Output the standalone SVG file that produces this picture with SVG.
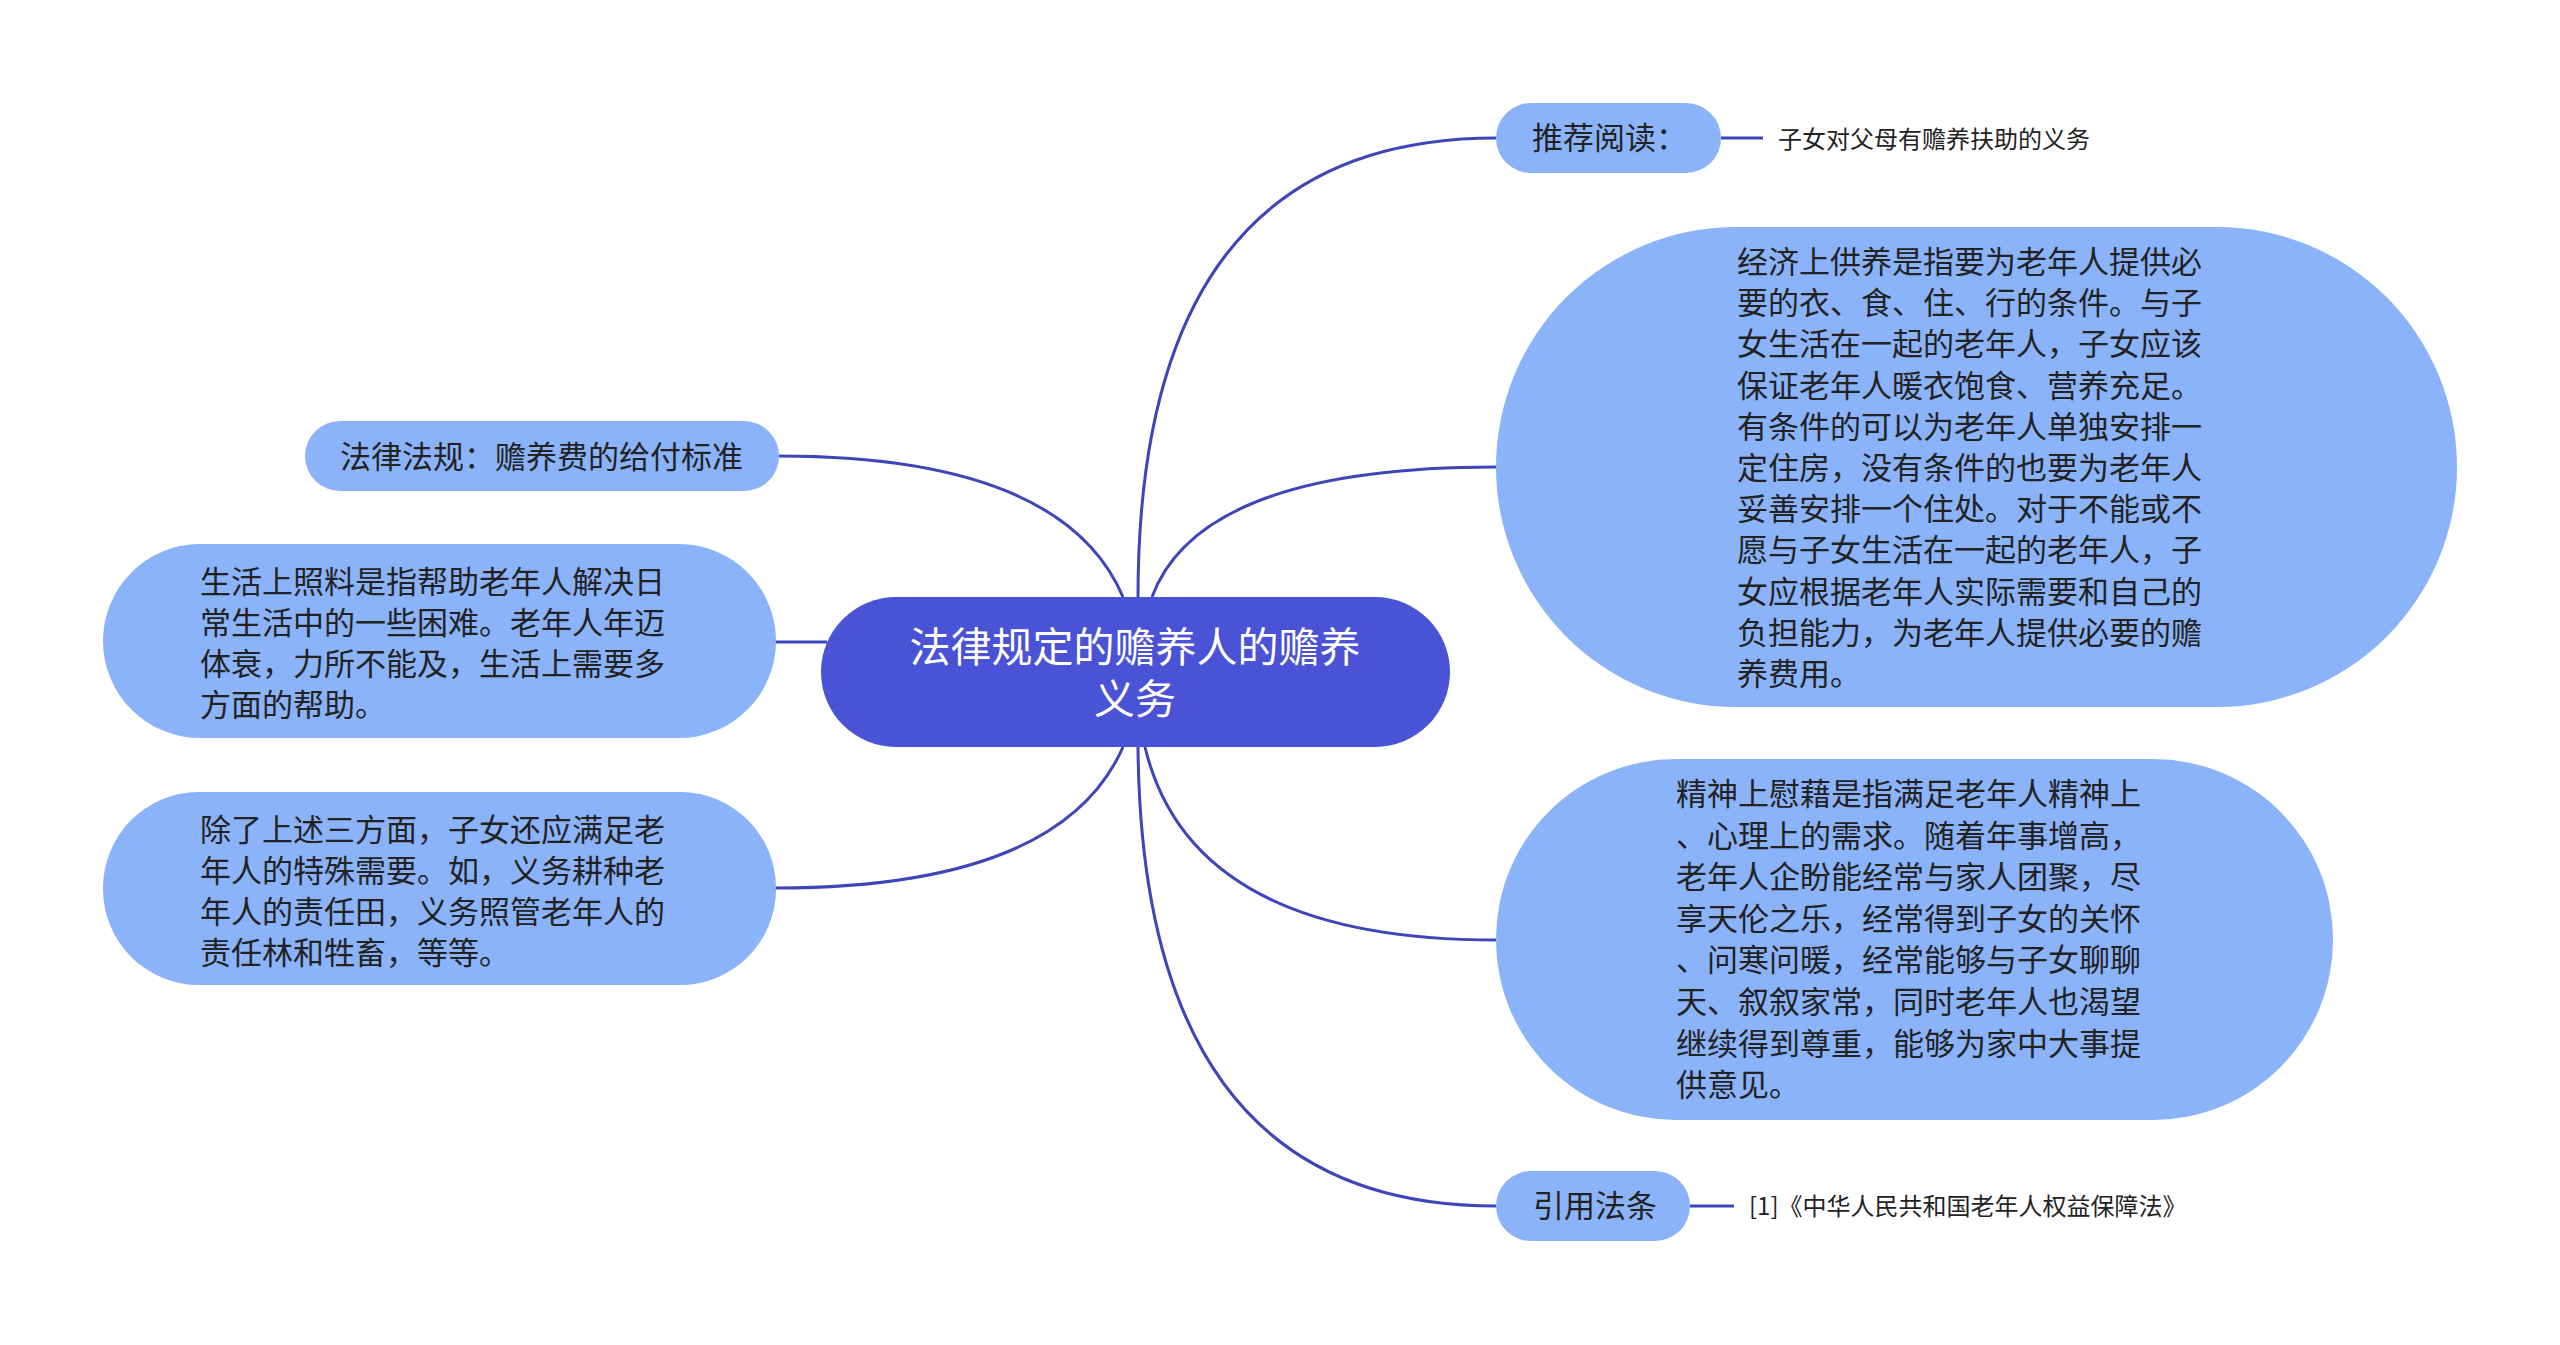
<svg xmlns="http://www.w3.org/2000/svg" width="2560" height="1345" viewBox="0 0 2560 1345">
<style>
.bg{fill:#ffffff}
.sub{fill:#8ab3f9}
.root{fill:#4a52d6}
.t{font-family:"Noto Sans CJK SC","Noto Sans",sans-serif;font-size:31px;fill:#222222;dominant-baseline:central}
.rt{font-family:"Noto Sans CJK SC","Noto Sans",sans-serif;font-size:41px;fill:#ffffff;dominant-baseline:central;text-anchor:middle}
.lf{font-family:"Noto Sans CJK SC","Noto Sans",sans-serif;font-size:24px;fill:#222222;dominant-baseline:central}
.c{fill:none;stroke:#3d45b8;stroke-width:3}
</style>
<rect class="bg" x="0" y="0" width="2560" height="1345"/>
<g id="connectors">
<path class="c" d="M1138,597 Q1138,138 1496,138"/>
<path class="c" d="M1152,597 Q1200,467 1496,467"/>
<path class="c" d="M1145,747 Q1191,940 1496,940"/>
<path class="c" d="M1138,747 Q1142,1206 1496,1206"/>
<path class="c" d="M1123,597 Q1063,456 779,456"/>
<path class="c" d="M776,642 L827,642"/>
<path class="c" d="M1123,747 Q1061,888 776,888"/>
<path class="c" d="M1721,138 L1763,138"/>
<path class="c" d="M1690,1206 L1734,1206"/>
</g>
<g id="root">
<rect class="root" x="821" y="597" width="629" height="150" rx="75"/>
<text class="rt"><tspan x="1135" y="644">法律规定的赡养人的赡养</tspan><tspan x="1135" y="696">义务</tspan></text>
</g>
<g id="n-tuijian">
<rect class="sub" x="1496" y="103" width="225" height="70" rx="35"/>
<text class="t" x="1532" y="135">推荐阅读：</text>
</g>
<g id="leaf-tuijian">
<text class="lf" x="1778" y="137">子女对父母有赡养扶助的义务</text>
</g>
<g id="n-jingji">
<rect class="sub" x="1496" y="227" width="961" height="480" rx="240"/>
<text class="t" x="1737" y="259">经济上供养是指要为老年人提供必</text>
<text class="t" x="1737" y="300">要的衣、食、住、行的条件。与子</text>
<text class="t" x="1737" y="341">女生活在一起的老年人，子女应该</text>
<text class="t" x="1737" y="383">保证老年人暖衣饱食、营养充足。</text>
<text class="t" x="1737" y="424">有条件的可以为老年人单独安排一</text>
<text class="t" x="1737" y="465">定住房，没有条件的也要为老年人</text>
<text class="t" x="1737" y="506">妥善安排一个住处。对于不能或不</text>
<text class="t" x="1737" y="547">愿与子女生活在一起的老年人，子</text>
<text class="t" x="1737" y="589">女应根据老年人实际需要和自己的</text>
<text class="t" x="1737" y="630">负担能力，为老年人提供必要的赡</text>
<text class="t" x="1737" y="671">养费用。</text>
</g>
<g id="n-jingshen">
<rect class="sub" x="1496" y="759" width="837" height="361" rx="180"/>
<text class="t" x="1676" y="791">精神上慰藉是指满足老年人精神上</text>
<text class="t" x="1676" y="833">、心理上的需求。随着年事增高，</text>
<text class="t" x="1676" y="874">老年人企盼能经常与家人团聚，尽</text>
<text class="t" x="1676" y="916">享天伦之乐，经常得到子女的关怀</text>
<text class="t" x="1676" y="957">、问寒问暖，经常能够与子女聊聊</text>
<text class="t" x="1676" y="999">天、叙叙家常，同时老年人也渴望</text>
<text class="t" x="1676" y="1041">继续得到尊重，能够为家中大事提</text>
<text class="t" x="1676" y="1082">供意见。</text>
</g>
<g id="n-yinyong">
<rect class="sub" x="1496" y="1171" width="194" height="70" rx="35"/>
<text class="t" x="1533" y="1203">引用法条</text>
</g>
<g id="leaf-yinyong">
<text class="lf" x="1749" y="1204">[1]《中华人民共和国老年人权益保障法》</text>
</g>
<g id="n-fagui">
<rect class="sub" x="305" y="421" width="474" height="70" rx="35"/>
<text class="t" x="340" y="454">法律法规：赡养费的给付标准</text>
</g>
<g id="n-shenghuo">
<rect class="sub" x="103" y="544" width="673" height="194" rx="97"/>
<text class="t" x="200" y="579">生活上照料是指帮助老年人解决日</text>
<text class="t" x="200" y="620">常生活中的一些困难。老年人年迈</text>
<text class="t" x="200" y="661">体衰，力所不能及，生活上需要多</text>
<text class="t" x="200" y="702">方面的帮助。</text>
</g>
<g id="n-chule">
<rect class="sub" x="103" y="792" width="673" height="193" rx="96"/>
<text class="t" x="200" y="827">除了上述三方面，子女还应满足老</text>
<text class="t" x="200" y="868">年人的特殊需要。如，义务耕种老</text>
<text class="t" x="200" y="909">年人的责任田，义务照管老年人的</text>
<text class="t" x="200" y="950">责任林和牲畜，等等。</text>
</g>
</svg>
